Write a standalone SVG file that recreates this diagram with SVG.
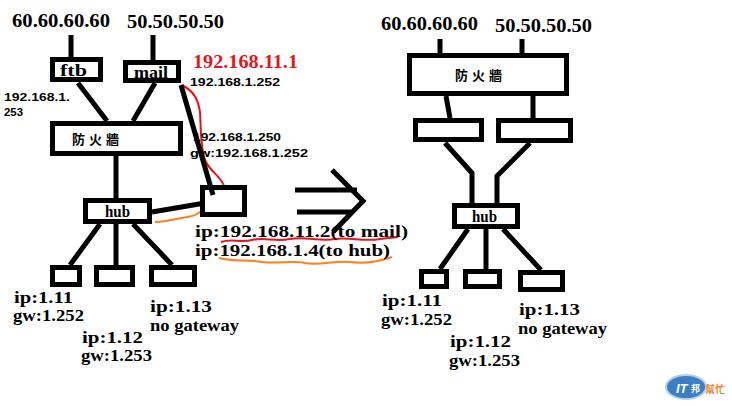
<svg xmlns="http://www.w3.org/2000/svg" width="732" height="406" viewBox="0 0 732 406">
<style>
.box{fill:#fff;stroke:#000;stroke-width:5}
.ln{fill:none;stroke:#000;stroke-width:5;stroke-linecap:butt}
.big{font-family:"Liberation Serif",serif;font-weight:bold;font-size:19px;fill:#000}
.t{font-family:"Liberation Serif",serif;font-weight:bold;font-size:16px;fill:#000}
.s{font-family:"Liberation Sans",sans-serif;font-weight:bold;font-size:11px;fill:#000}
.cjk{font-family:"Noto Sans CJK TC","Noto Sans CJK SC",sans-serif;font-weight:bold;font-size:13px;fill:#000;letter-spacing:4px}
.red{fill:none;stroke:#e8141c;stroke-width:2}
.org{fill:none;stroke:#ff7f1e;stroke-width:2}
</style>
<rect width="732" height="406" fill="#fff"/>
<g id="connectors">
<path class="ln" d="M71 35V58M153 35V60M78 83L107 121M155 83L133 121M116 156V198M100 224L70 265M116 224V265M133 224L172 265M152 212L205 203"/>
<path class="ln" d="M295 190H357M297 212H352M332 170L363 201L333 232"/>
<path class="ln" d="M440 39V53M522 39V53M446 96L450 118M533 96V125M445 143L472 173V204M530 143L497 176V204M468 229L440 269M486 229V269M503 229L541 270"/>
<path class="red" d="M182 85C195 92 198 100 200 112C201 125 200 145 205 160C210 172 220 175 224 186"/>
<path class="org" d="M155 222C168 222 180 218 192 216C200 214 203 210 205 205"/>
<path class="red" d="M221 242C232 238 240 243 252 240C265 237 275 242 290 239C305 236 320 242 335 239C350 237 365 242 380 239C388 238 393 238 398 237"/>
<path class="org" d="M219 258C235 262 248 259 262 262C278 264 292 260 305 263C320 266 335 260 350 262C365 264 378 262 392 257"/>
</g>
<g id="ip-60-left"><text class="big" x="12" y="27" textLength="98" lengthAdjust="spacingAndGlyphs">60.60.60.60</text></g>
<g id="ip-50-left"><text class="big" x="127" y="28" textLength="97" lengthAdjust="spacingAndGlyphs">50.50.50.50</text></g>
<g id="ftb"><rect class="box" x="52.5" y="59.5" width="48" height="20"/><text class="t" x="60" y="76" textLength="27" lengthAdjust="spacingAndGlyphs">ftb</text></g>
<g id="mail"><rect class="box" x="125.5" y="62.5" width="53" height="18"/><text class="t" x="134" y="78" textLength="34" lengthAdjust="spacingAndGlyphs">mail</text></g>
<g id="mail-labels">
<text x="193" y="68" font-family="Liberation Serif,serif" font-weight="bold" font-size="18" fill="#e8141c" textLength="105" lengthAdjust="spacingAndGlyphs">192.168.11.1</text>
<text class="s" x="190" y="86" textLength="90" lengthAdjust="spacingAndGlyphs">192.168.1.252</text>
</g>
<g id="ftb-label"><text class="s" x="4" y="101" textLength="66" lengthAdjust="spacingAndGlyphs">192.168.1.</text><text class="s" x="4" y="116" textLength="19" lengthAdjust="spacingAndGlyphs">253</text></g>
<g id="firewall-left"><rect class="box" x="52.5" y="123.5" width="128" height="30"/><text class="cjk" x="72" y="144">防火牆</text></g>
<g id="hub-left"><rect class="box" x="85.5" y="200.5" width="64" height="21"/><text class="t" x="105" y="217" textLength="25" lengthAdjust="spacingAndGlyphs">hub</text></g>
<g id="router"><rect class="box" x="202.5" y="187.5" width="42" height="27"/>
<text class="s" x="193" y="141" textLength="88" lengthAdjust="spacingAndGlyphs">192.168.1.250</text>
<text class="s" x="190" y="157" textLength="118" lengthAdjust="spacingAndGlyphs">gw:192.168.1.252</text>
<text class="t" x="195" y="237" textLength="213" lengthAdjust="spacingAndGlyphs">ip:192.168.11.2(to mail)</text>
<text class="t" x="195" y="256" textLength="195" lengthAdjust="spacingAndGlyphs">ip:192.168.1.4(to hub)</text>
</g>
<path class="ln" d="M181 85L213 195" stroke-width="4"/>
<g id="pc1-left"><rect class="box" x="52.5" y="267.5" width="27" height="17"/><text class="t" x="14" y="303" textLength="59" lengthAdjust="spacingAndGlyphs">ip:1.11</text><text class="t" x="13" y="321" textLength="71" lengthAdjust="spacingAndGlyphs">gw:1.252</text></g>
<g id="pc2-left"><rect class="box" x="96.5" y="267.5" width="36" height="17"/><text class="t" x="82" y="343" textLength="61" lengthAdjust="spacingAndGlyphs">ip:1.12</text><text class="t" x="81" y="361" textLength="71" lengthAdjust="spacingAndGlyphs">gw:1.253</text></g>
<g id="pc3-left"><rect class="box" x="151.5" y="267.5" width="43" height="17"/><text class="t" x="150" y="312" textLength="62" lengthAdjust="spacingAndGlyphs">ip:1.13</text><text class="t" x="150" y="331" textLength="89" lengthAdjust="spacingAndGlyphs">no gateway</text></g>
<g id="ip-60-right"><text class="big" x="381" y="30" textLength="97" lengthAdjust="spacingAndGlyphs">60.60.60.60</text></g>
<g id="ip-50-right"><text class="big" x="495" y="32" textLength="97" lengthAdjust="spacingAndGlyphs">50.50.50.50</text></g>
<g id="firewall-right"><rect class="box" x="409.5" y="55.5" width="157" height="38"/><text class="cjk" x="455" y="80">防火牆</text></g>
<g id="nic1-right"><rect class="box" x="415.5" y="120.5" width="66" height="19"/></g>
<g id="nic2-right"><rect class="box" x="498.5" y="120.5" width="72" height="20"/></g>
<g id="hub-right"><rect class="box" x="454.5" y="205.5" width="63" height="21"/><text class="t" x="472" y="222" textLength="25" lengthAdjust="spacingAndGlyphs">hub</text></g>
<g id="pc1-right"><rect class="box" x="421.5" y="271.5" width="25" height="15"/><text class="t" x="382" y="306" textLength="60" lengthAdjust="spacingAndGlyphs">ip:1.11</text><text class="t" x="381" y="325" textLength="71" lengthAdjust="spacingAndGlyphs">gw:1.252</text></g>
<g id="pc2-right"><rect class="box" x="465.5" y="271.5" width="34" height="15"/><text class="t" x="450" y="347" textLength="61" lengthAdjust="spacingAndGlyphs">ip:1.12</text><text class="t" x="449" y="366" textLength="71" lengthAdjust="spacingAndGlyphs">gw:1.253</text></g>
<g id="pc3-right"><rect class="box" x="520.5" y="272.5" width="42" height="17"/><text class="t" x="519" y="315" textLength="61" lengthAdjust="spacingAndGlyphs">ip:1.13</text><text class="t" x="518" y="334" textLength="89" lengthAdjust="spacingAndGlyphs">no gateway</text></g>
<g id="watermark">
<ellipse cx="686" cy="387" rx="20" ry="12" fill="#3a7fc4" stroke="#b9cfe6" stroke-width="2"/>
<text x="676" y="393" font-family="Liberation Sans,sans-serif" font-weight="bold" font-style="italic" font-size="13" fill="#fff">IT</text>
<text x="691" y="392" font-family="Noto Sans CJK TC,sans-serif" font-weight="bold" font-size="9" fill="#fff">邦</text>
<text x="705" y="393" font-family="Noto Sans CJK TC,sans-serif" font-weight="bold" font-size="10" fill="#e8893a">幫忙</text>
</g>
</svg>
